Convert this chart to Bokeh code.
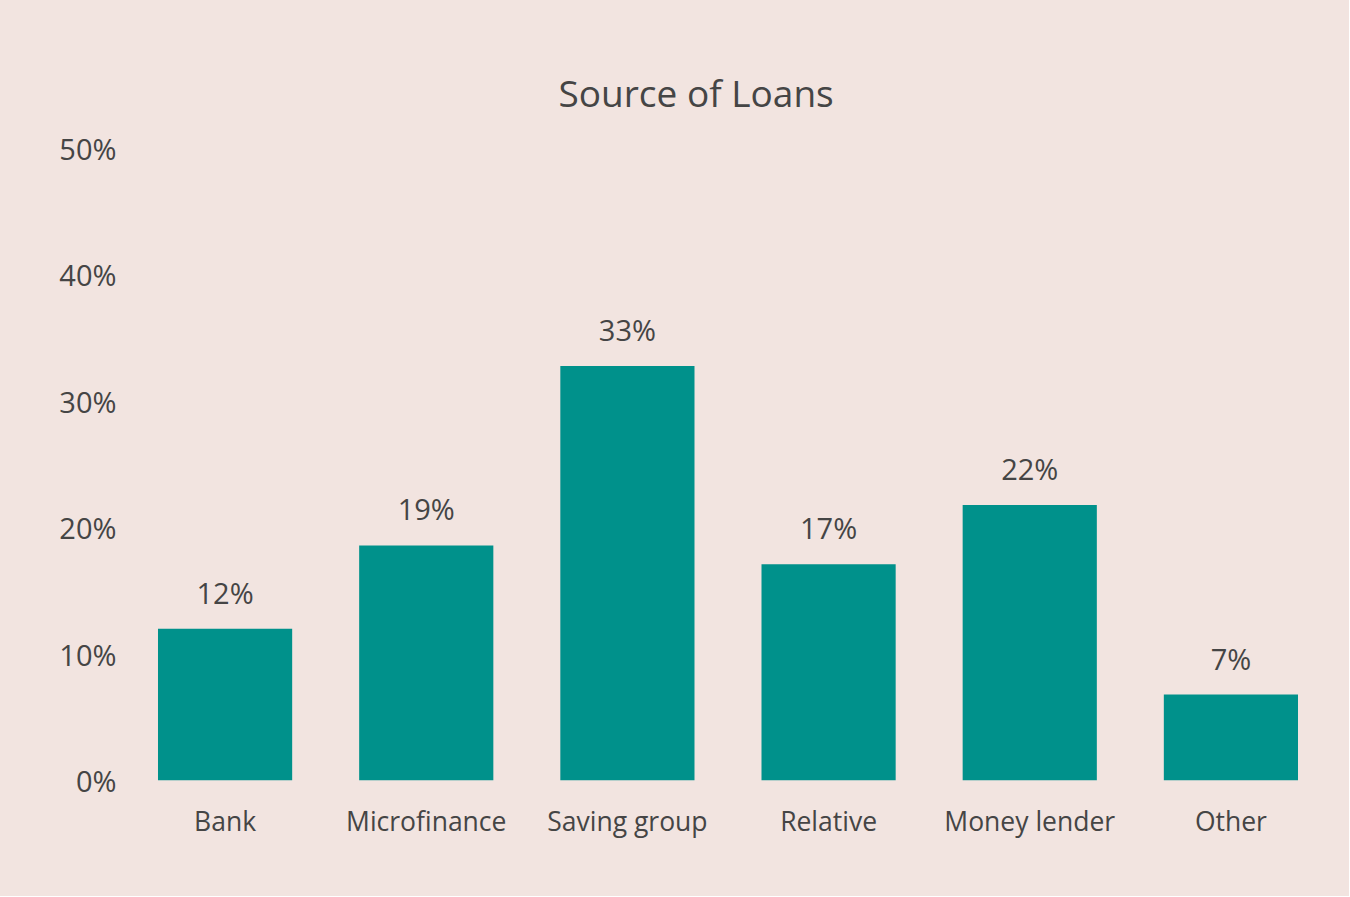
from bokeh.plotting import figure
from bokeh.models import ColumnDataSource, FixedTicker, CustomJSTickFormatter
from bokeh.core.properties import value
from bokeh.embed import file_html
from bokeh.resources import INLINE

categories = ["Bank", "Microfinance", "Saving group", "Relative", "Money lender", "Other"]
shares = [12.0, 18.6, 32.8, 17.1, 21.8, 6.8]
labels = ["12%", "19%", "33%", "17%", "22%", "7%"]
y_ticks = [0, 10, 20, 30, 40, 50]
title_text = "Source of Loans"

BG = "#f2e4e0"
BAR = "#00918b"
TXT = "#454545"
FONT = "Open Sans"

src = ColumnDataSource(dict(cat=categories, val=shares, lab=labels))

p = figure(x_range=categories, y_range=(0, 50), width=1349, height=896,
           output_backend="svg", toolbar_location=None,
           background_fill_color=None, border_fill_color=None,
           min_border_left=124, min_border_right=18,
           min_border_top=148, min_border_bottom=116)
p.styles = {"background-color": BG}
p.outline_line_color = None
p.x_range.range_padding = 0
p.vbar(x="cat", top="val", width=0.667, source=src, color=BAR, line_color=None)
p.text(x="cat", y="val", text="lab", source=src, text_align="center",
       text_baseline="bottom", y_offset=-17, text_font=value(FONT),
       text_font_size="29px", text_color=TXT)

p.xgrid.grid_line_color = None
p.ygrid.grid_line_color = None
for ax in (p.xaxis[0], p.yaxis[0]):
    ax.axis_line_color = None
    ax.major_tick_line_color = None
    ax.minor_tick_line_color = None
    ax.major_tick_out = 0
    ax.major_tick_in = 0
    ax.major_label_text_font = FONT
    ax.major_label_text_color = TXT
p.xaxis.major_label_text_font_size = "26.5px"
p.yaxis.major_label_text_font_size = "29px"
p.yaxis.ticker = FixedTicker(ticks=y_ticks)
p.yaxis.formatter = CustomJSTickFormatter(code="return tick + '%'")
p.yaxis.major_label_standoff = 8
p.xaxis.major_label_standoff = 22

p.title.text = title_text
p.title.align = "left"
p.title.offset = 434
p.title.standoff = 62
p.title.text_font = FONT
p.title.text_font_size = "37px"
p.title.text_font_style = "normal"
p.title.text_color = TXT

open("out.html", "w").write(file_html(p, INLINE))
